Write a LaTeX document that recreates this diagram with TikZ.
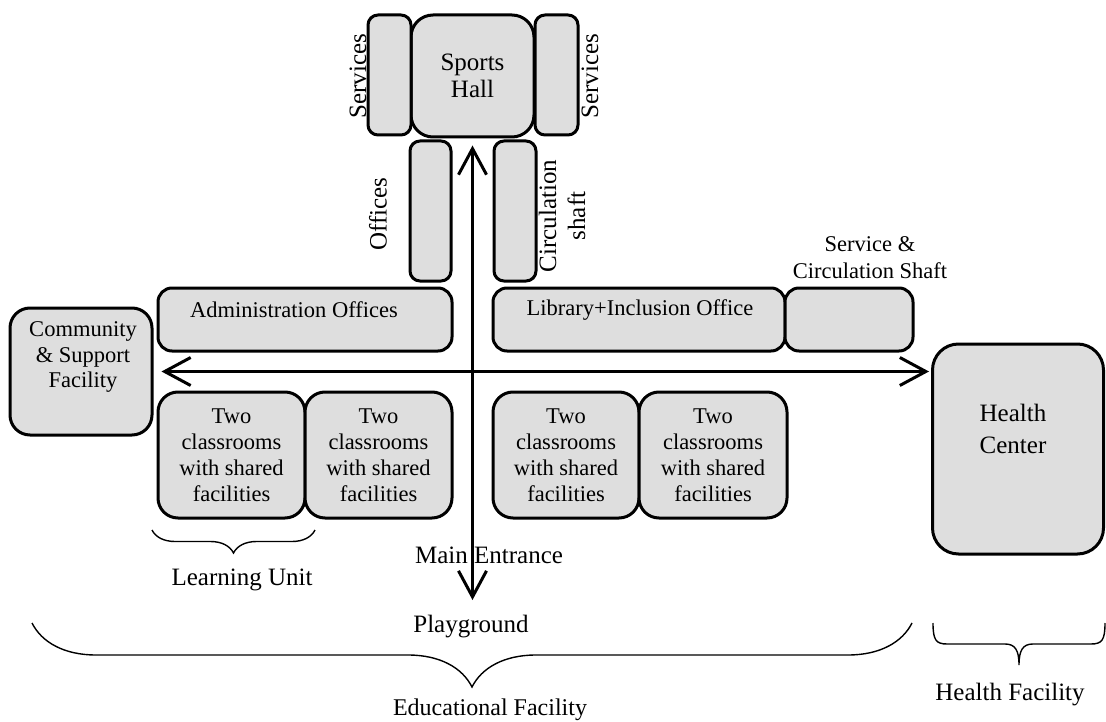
\documentclass[tikz,border=0pt]{standalone}
\usepackage{fontspec}
\setmainfont{Liberation Serif}
\usetikzlibrary{arrows.meta,decorations.pathreplacing}
\definecolor{roomfill}{gray}{0.87}
\tikzset{
  room/.style={draw, line width=3pt, fill=roomfill, rounded corners=#1,
    inner sep=0pt, align=center, font=\fontsize{22.5}{26}\selectfont},
  room/.default=12pt,
  roomlabel/.style={inner sep=0pt, align=center, font=\fontsize{22.5}{26}\selectfont},
  biglabel/.style={inner sep=0pt, align=center, font=\fontsize{25}{27}\selectfont},
  flow/.style={line width=3pt, {Straight Barb[length=26pt,width=28pt]}-{Straight Barb[length=26pt,width=28pt]}},
  bracketline/.style={line width=1.4pt},
  bracket/.style={bracketline, decorate, decoration={brace, mirror, amplitude=#1}},
}
\begin{document}
\begin{tikzpicture}[x=1pt, y=-1pt]
\useasboundingbox (0,0) rectangle (1106,722);

% sports hall block
\node[room=22pt, minimum width=123pt, minimum height=122pt, font=\fontsize{25}{27}\selectfont] (hall) at (472.5,76) {Sports\\Hall};
\node[room=10pt, minimum width=43pt, minimum height=120pt] (servL) at (389.5,75) {};
\node[room=10pt, minimum width=43pt, minimum height=120pt] (servR) at (556.5,75) {};
\node[room=10pt, minimum width=41pt, minimum height=140pt] (offices) at (430.5,211) {};
\node[room=10pt, minimum width=42pt, minimum height=140pt] (circ) at (515,211) {};

% front wings
\node[room=14pt, minimum width=294pt, minimum height=63pt] (admin) at (305,319.5) {};
\node[room=14pt, minimum width=292pt, minimum height=63pt] (lib) at (639,319.5) {};
\node[room=14pt, minimum width=128pt, minimum height=63pt] (svc) at (849,319.5) {};
\node[room=20pt, minimum width=142pt, minimum height=127pt] (comm) at (81,371.5) {};

% learning units
\node[room=20pt, minimum width=147pt, minimum height=126pt] (cl1) at (231.5,455) {Two\\classrooms\\with shared\\facilities};
\node[room=20pt, minimum width=147pt, minimum height=126pt] (cl2) at (378.5,455) {Two\\classrooms\\with shared\\facilities};
\node[room=20pt, minimum width=146pt, minimum height=126pt] (cl3) at (566,455) {Two\\classrooms\\with shared\\facilities};
\node[room=20pt, minimum width=148pt, minimum height=126pt] (cl4) at (713,455) {Two\\classrooms\\with shared\\facilities};

% health centre
\node[room=26pt, minimum width=171pt, minimum height=210pt] (health) at (1018,449) {};

% circulation axes
\coordinate (entrance) at (472.5,600);
\draw[flow, shorten >=7pt] (entrance) -- (hall.south);
\draw[flow, shorten <=8pt, shorten >=2pt] (comm.east) -- (comm.east -| health.west);

% room labels
\node[biglabel, rotate=90] (servLtxt) at (358,76) {Services};
\node[biglabel, rotate=90] (servRtxt) at (590,76) {Services};
\node[biglabel, rotate=90] (officestxt) at (378,214) {Offices};
\node[biglabel, rotate=90, font=\fontsize{25}{29}\selectfont] (circtxt) at (562,216) {Circulation\\shaft};
\node[roomlabel] (admintxt) at (294,310) {Administration Offices};
\node[roomlabel] (libtxt) at (640,310) {Library+Inclusion Office};
\node[roomlabel, font=\fontsize{22.5}{27}\selectfont] (svctxt) at (870,258) {Service \&\\Circulation Shaft};
\node[roomlabel, font=\fontsize{22.5}{25.5}\selectfont] (commtxt) at (83,357) {Community\\\& Support\\Facility};
\node[biglabel, font=\fontsize{25}{32}\selectfont] (healthtxt) at (1013,429) {Health\\Center};
\node[biglabel] (entrtxt) at (489,555) {Main Entrance};
\node[biglabel] (playtxt) at (471,627) {Playground};

% groupings
\draw[bracket=23pt] (152,530) -- (315,530);
\node[biglabel] (unittxt) at (242,580) {Learning Unit};
\draw[bracket=64pt] (32,623) -- (912,623);
\node[biglabel, font=\fontsize{24}{27}\selectfont] (edutxt) at (490,710) {Educational Facility};
% tight brace under the health centre
\draw[bracketline] (933,623) .. controls (933,640) and (936,644) .. (947,644)
  -- (1005,644) .. controls (1015,644) and (1019,650) .. (1019,665)
  .. controls (1019,650) and (1023,644) .. (1033,644)
  -- (1091,644) .. controls (1102,644) and (1105,640) .. (1105,623);
\node[biglabel] (healthfac) at (1010,695) {Health Facility};
\end{tikzpicture}
\end{document}
